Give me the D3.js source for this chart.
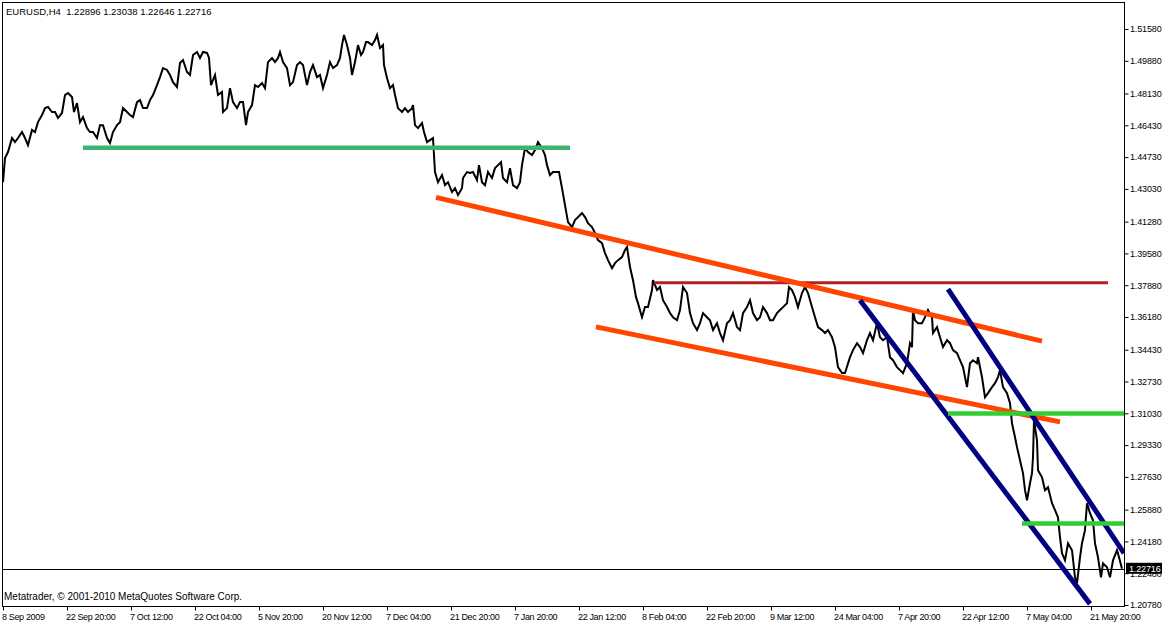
<!DOCTYPE html>
<html>
<head>
<meta charset="utf-8">
<script src="https://cdn.jsdelivr.net/npm/d3@7"></script>
<style>
  html, body { margin: 0; padding: 0; background: #fff; }
  svg { display: block; }
  text { font-family: "Liberation Sans", Arial, sans-serif; white-space: pre; }
</style>
</head>
<body>
<svg id="chart" width="1162" height="624"></svg>
<script>
// ---------- DATA ----------
const symbolTitle = "EURUSD,H4  1.22896 1.23038 1.22646 1.22716";
const copyrightText = "Metatrader, \u00A9 2001-2010 MetaQuotes Software Corp.";
const lastPrice = 1.22716;

// [bar index, close price]
const priceSeries = [
[0,1.4339],[2,1.4468],[5,1.4500],[9,1.4575],[12,1.4553],[15,1.4575],[19,1.4607],[22,1.4575],[25,1.4537],[29,1.4618],
[32,1.4607],[35,1.4660],[39,1.4698],[42,1.4735],[45,1.4741],[49,1.4714],[52,1.4714],[55,1.4682],[59,1.4709],[62,1.4805],
[65,1.4816],[69,1.4794],[71,1.4714],[74,1.4762],[77,1.4660],[80,1.4687],[84,1.4628],[87,1.4607],[90,1.4607],[94,1.4575],
[97,1.4644],[100,1.4644],[104,1.4575],[107,1.4548],[110,1.4607],[114,1.4644],[117,1.4660],[120,1.4735],[124,1.4714],[127,1.4698],
[130,1.4687],[134,1.4767],[137,1.4778],[140,1.4735],[144,1.4735],[147,1.4778],[150,1.4805],[154,1.4858],[157,1.4901],[160,1.4949],
[164,1.4939],[167,1.4912],[170,1.4874],[174,1.4848],[177,1.4976],[180,1.4992],[184,1.4928],[187,1.4912],[190,1.5019],[194,1.5035],
[197,1.5003],[200,1.5035],[204,1.5030],[206,1.5003],[208,1.4858],[212,1.4912],[215,1.4805],[219,1.4821],[220,1.4714],[224,1.4735],
[227,1.4842],[230,1.4767],[234,1.4735],[237,1.4767],[240,1.4767],[243,1.4644],[245,1.4714],[249,1.4751],[252,1.4858],[255,1.4848],
[259,1.4869],[262,1.4842],[265,1.4981],[269,1.5003],[272,1.4981],[275,1.5003],[277,1.5035],[280,1.4981],[284,1.4949],[287,1.4858],
[290,1.4874],[294,1.4965],[297,1.4981],[300,1.4965],[304,1.4858],[307,1.4928],[310,1.4965],[314,1.4901],[317,1.4912],[320,1.4842],
[324,1.4912],[327,1.4981],[330,1.4949],[334,1.4965],[337,1.5003],[339,1.5072],[341,1.5126],[344,1.5072],[347,1.5003],[349,1.4912],
[352,1.4981],[355,1.5072],[358,1.5019],[360,1.5035],[363,1.5088],[365,1.5088],[369,1.5072],[372,1.5099],[374,1.5126],[377,1.5056],
[380,1.5072],[381,1.4965],[384,1.4896],[387,1.4842],[390,1.4858],[392,1.4805],[395,1.4735],[399,1.4714],[402,1.4735],[405,1.4714],
[409,1.4735],[410,1.4751],[412,1.4644],[415,1.4628],[419,1.4655],[421,1.4607],[424,1.4553],[427,1.4564],[430,1.4575],[432,1.4393],
[435,1.4339],[439,1.4377],[442,1.4323],[445,1.4339],[449,1.4286],[452,1.4307],[455,1.4270],[459,1.4307],[460,1.4361],[464,1.4393],
[467,1.4388],[470,1.4393],[474,1.4350],[476,1.4430],[479,1.4339],[482,1.4323],[485,1.4393],[489,1.4361],[492,1.4414],[495,1.4430],
[498,1.4446],[500,1.4361],[504,1.4339],[507,1.4414],[510,1.4323],[514,1.4307],[517,1.4339],[519,1.4430],[522,1.4521],[525,1.4500],
[529,1.4484],[532,1.4511],[535,1.4553],[539,1.4521],[542,1.4484],[544,1.4430],[547,1.4377],[550,1.4393],[554,1.4393],[556,1.4393],
[559,1.4307],[562,1.4216],[565,1.4125],[569,1.4099],[572,1.4136],[575,1.4152],[579,1.4174],[582,1.4152],[585,1.4120],[589,1.4099],
[592,1.4067],[595,1.4029],[599,1.4013],[602,1.3960],[605,1.3922],[609,1.3879],[612,1.3906],[615,1.3922],[619,1.3938],[622,1.3976],
[624,1.3992],[627,1.3885],[630,1.3815],[633,1.3724],[635,1.3692],[639,1.3617],[642,1.3671],[645,1.3671],[649,1.3762],[650,1.3815],
[654,1.3762],[657,1.3778],[660,1.3708],[664,1.3671],[667,1.3639],[670,1.3617],[674,1.3601],[677,1.3655],[680,1.3778],[684,1.3746],
[687,1.3639],[690,1.3585],[694,1.3548],[697,1.3585],[700,1.3639],[704,1.3617],[707,1.3601],[710,1.3548],[714,1.3585],[717,1.3532],
[720,1.3494],[724,1.3585],[727,1.3601],[730,1.3639],[734,1.3564],[737,1.3548],[740,1.3639],[744,1.3671],[747,1.3708],[750,1.3639],
[754,1.3601],[757,1.3617],[760,1.3671],[764,1.3639],[767,1.3601],[770,1.3601],[774,1.3639],[777,1.3655],[780,1.3671],[784,1.3692],
[786,1.3778],[789,1.3762],[792,1.3724],[795,1.3671],[799,1.3746],[802,1.3778],[805,1.3746],[809,1.3671],[812,1.3617],[815,1.3564],
[819,1.3548],[822,1.3532],[825,1.3548],[829,1.3510],[832,1.3457],[835,1.3350],[839,1.3318],[842,1.3318],[847,1.3403],[850,1.3441],
[854,1.3478],[857,1.3457],[860,1.3425],[864,1.3494],[867,1.3532],[870,1.3494],[874,1.3585],[877,1.3510],[880,1.3494],[884,1.3510],
[887,1.3403],[890,1.3387],[894,1.3350],[897,1.3334],[900,1.3318],[904,1.3371],[907,1.3478],[909,1.3457],[910,1.3655],[912,1.3601],
[915,1.3585],[919,1.3585],[922,1.3617],[925,1.3655],[929,1.3617],[930,1.3532],[934,1.3564],[937,1.3510],[940,1.3457],[944,1.3494],
[947,1.3478],[950,1.3441],[954,1.3425],[957,1.3387],[960,1.3350],[964,1.3243],[967,1.3371],[970,1.3387],[974,1.3371],[975,1.3403],
[979,1.3296],[982,1.3189],[985,1.3211],[989,1.3243],[992,1.3264],[995,1.3296],[997,1.3334],[1000,1.3243],[1004,1.3211],[1007,1.3157],
[1009,1.3050],[1012,1.2975],[1014,1.2922],[1017,1.2852],[1020,1.2783],[1022,1.2692],[1024,1.2638],[1027,1.2729],[1029,1.2783],[1030,1.2868],
[1031,1.3066],[1034,1.2959],[1035,1.2799],[1039,1.2761],[1042,1.2692],[1045,1.2708],[1049,1.2622],[1052,1.2585],[1055,1.2547],[1057,1.2440],
[1059,1.2355],[1062,1.2317],[1065,1.2408],[1069,1.2371],[1072,1.2226],[1074,1.2194],[1077,1.2333],[1079,1.2408],[1082,1.2478],[1084,1.2622],
[1087,1.2569],[1090,1.2531],[1092,1.2408],[1095,1.2333],[1098,1.2226],[1100,1.2301],[1104,1.2280],[1107,1.2226],[1110,1.2317],[1114,1.2371],
[1116,1.2333],[1119,1.22716]
];

// y-axis tick labels (as shown by the terminal)
const priceTicks = ["1.51580","1.49880","1.48130","1.46430","1.44730","1.43030","1.41280","1.39580","1.37880","1.36180",
                    "1.34430","1.32730","1.31030","1.29330","1.27630","1.25880","1.24180","1.22480","1.20780"];

// x-axis labels, one every 64 H4 bars
const timeLabels = ["8 Sep 2009","22 Sep 20:00","7 Oct 12:00","22 Oct 04:00","5 Nov 20:00","20 Nov 12:00","7 Dec 04:00",
                    "21 Dec 20:00","7 Jan 20:00","22 Jan 12:00","8 Feb 04:00","22 Feb 20:00","9 Mar 12:00","24 Mar 04:00",
                    "7 Apr 20:00","22 Apr 12:00","7 May 04:00","21 May 20:00"];
const labelEvery = 64;

// drawn objects: [bar1, price1, bar2, price2]
const greenLevels = [[80, 1.4523, 567, 1.4523]];
const limeLevels = [[945, 1.3102, 1121, 1.3102], [1019, 1.2514, 1121, 1.2514]];
const resistanceLines = [[651, 1.3801, 1105, 1.3801]];
const orangeChannel = [[433, 1.4258, 1039, 1.3489], [593, 1.3565, 1057, 1.3057]];
const blueChannel = [[857, 1.3708, 1087, 1.2084], [945, 1.3767, 1121, 1.2355]];

// ---------- DRAW ----------
const W = 1162, H = 624;
const plot = {left: 2.5, right: 1124.5, top: 2.5, bottom: 606.5};
const svg = d3.select("#chart");

const x = d3.scaleLinear().domain([0, 1121]).range([3, 1124]);
const y = d3.scaleLinear().domain([1.2078, 1.5158]).range([605, 29]);

svg.append("rect").attr("width", W).attr("height", H).attr("fill", "#fff");

svg.append("defs").append("clipPath").attr("id", "clip")
  .append("rect").attr("x", plot.left).attr("y", plot.top)
  .attr("width", plot.right - plot.left).attr("height", plot.bottom - plot.top);

const g = svg.append("g").attr("clip-path", "url(#clip)");

// bid line
g.append("line").attr("x1", plot.left).attr("x2", plot.right)
  .attr("y1", Math.round(y(lastPrice)) + 0.5).attr("y2", Math.round(y(lastPrice)) + 0.5)
  .attr("stroke", "#000").attr("stroke-width", 1);

// price line
const line = d3.line().x(d => x(d[0])).y(d => y(d[1]));
g.append("path").datum(priceSeries).attr("d", line)
  .attr("fill", "none").attr("stroke", "#000").attr("stroke-width", 2)
  .attr("stroke-linejoin", "miter");

function drawSegs(data, color, width) {
  g.selectAll(null).data(data).enter().append("line")
    .attr("x1", d => x(d[0])).attr("y1", d => y(d[1]))
    .attr("x2", d => x(d[2])).attr("y2", d => y(d[3]))
    .attr("stroke", color).attr("stroke-width", width).attr("stroke-linecap", "butt");
}
drawSegs(greenLevels, "#3cb371", 4.5);
drawSegs(resistanceLines, "#b22222", 3);
drawSegs(orangeChannel, "#ff4500", 5);
drawSegs(blueChannel, "#000080", 5);
drawSegs(limeLevels, "#32cd32", 4.5);

// frame
svg.append("rect").attr("x", plot.left).attr("y", plot.top)
  .attr("width", plot.right - plot.left).attr("height", plot.bottom - plot.top)
  .attr("fill", "none").attr("stroke", "#000").attr("stroke-width", 1);

// header & copyright
svg.append("text").attr("x", 6).attr("y", 15).attr("font-size", 9.5).attr("fill", "#000").text(symbolTitle);
svg.append("text").attr("x", 4).attr("y", 600).attr("font-size", 10).attr("fill", "#000").text(copyrightText);

// right price axis
const yAxis = d3.axisRight(y)
  .tickValues(priceTicks.map(Number))
  .tickFormat((d, i) => priceTicks[i])
  .tickSize(4).tickPadding(1.5);
const ya = svg.append("g").attr("transform", `translate(${plot.right},0)`).call(yAxis);
ya.select(".domain").remove();
ya.selectAll("text").attr("font-size", 9).attr("letter-spacing", -0.15)
  .attr("font-family", "Liberation Sans, Arial, sans-serif").attr("fill", "#000");
ya.selectAll("line").attr("stroke", "#000");

// bottom time axis
const xAxis = d3.axisBottom(x)
  .tickValues(timeLabels.map((_, i) => i * labelEvery))
  .tickFormat((d, i) => timeLabels[i])
  .tickSize(4).tickPadding(3);
const xa = svg.append("g").attr("transform", `translate(0,${plot.bottom})`).call(xAxis);
xa.select(".domain").remove();
xa.selectAll("text").attr("text-anchor", "start").attr("dx", -1.5)
  .attr("font-size", 9).attr("letter-spacing", -0.35)
  .attr("font-family", "Liberation Sans, Arial, sans-serif").attr("fill", "#000");
xa.selectAll("line").attr("stroke", "#000");

// last price tag
const ly = y(lastPrice);
svg.append("rect").attr("x", 1126).attr("y", ly - 6).attr("width", 36).attr("height", 11).attr("fill", "#000");
svg.append("text").attr("x", 1129).attr("y", ly + 3.3).attr("font-size", 9).attr("letter-spacing", -0.15).attr("fill", "#fff")
  .text(d3.format(".5f")(lastPrice));
</script>
</body>
</html>
